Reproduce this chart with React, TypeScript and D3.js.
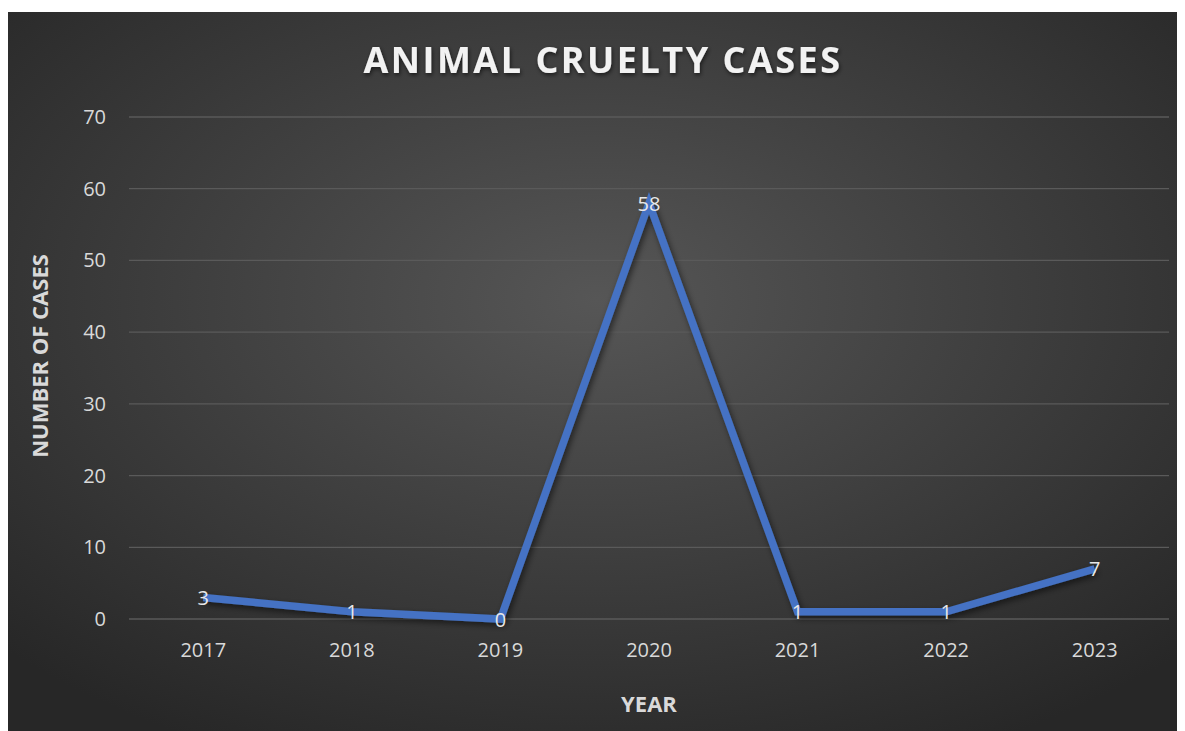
import React from "react";
import * as d3 from "d3";

const years = ["2017", "2018", "2019", "2020", "2021", "2022", "2023"];
const cases = [3, 1, 0, 58, 1, 1, 7];
const yTicks = [0, 10, 20, 30, 40, 50, 60, 70];

const W = 1177;
const H = 723;
const TOP = 4;
const plot = { left: 121, right: 1161, top: 109, bottom: 611 };
const FONT = "'Open Sans', 'Liberation Sans', sans-serif";

export default function App() {
  const x = d3
    .scaleBand<string>()
    .domain(years)
    .range([plot.left, plot.right]);
  const y = d3.scaleLinear().domain([0, 70]).range([plot.bottom, plot.top]);
  const cx = (d: string) => (x(d) ?? 0) + x.bandwidth() / 2;

  const line = d3
    .line<number>()
    .x((_, i) => cx(years[i]))
    .y((d) => y(d));

  return (
    <svg width={W} height={H} style={{ display: "block" }}>
      <defs>
        <radialGradient id="bg" cx="50%" cy="40%" r="70%">
          <stop offset="0%" stopColor="#565656" />
          <stop offset="100%" stopColor="#272727" />
        </radialGradient>
        <filter id="lineShadow" x="-10%" y="-10%" width="120%" height="130%">
          <feDropShadow dx="2" dy="3" stdDeviation="3" floodColor="#000" floodOpacity="0.55" />
        </filter>
        <filter id="titleShadow" x="-5%" y="-30%" width="110%" height="160%">
          <feDropShadow dx="1" dy="2" stdDeviation="2" floodColor="#000" floodOpacity="0.6" />
        </filter>
      </defs>
      <rect x={0} y={TOP} width={W} height={H - TOP} fill="url(#bg)" />

      {/* horizontal gridlines and y tick labels */}
      {yTicks.map((t) => (
        <g key={t}>
          <line
            x1={plot.left}
            x2={plot.right}
            y1={y(t)}
            y2={y(t)}
            stroke="#5a5a5a"
            strokeWidth={1.3}
          />
          <text
            x={plot.left - 23}
            y={y(t)}
            dy="0.35em"
            textAnchor="end"
            fill="#d9d9d9"
            fontFamily={FONT}
            fontSize={20}
          >
            {t}
          </text>
        </g>
      ))}

      {/* x category labels */}
      {years.map((yr) => (
        <text
          key={yr}
          x={cx(yr)}
          y={plot.bottom + 31}
          dy="0.35em"
          textAnchor="middle"
          fill="#d9d9d9"
          fontFamily={FONT}
          fontSize={20}
        >
          {yr}
        </text>
      ))}

      {/* series line */}
      <path
        d={line(cases) ?? ""}
        fill="none"
        stroke="#4472c4"
        strokeWidth={7.5}
        strokeLinejoin="miter"
        filter="url(#lineShadow)"
      />

      {/* data labels */}
      {cases.map((v, i) => (
        <text
          key={i}
          x={cx(years[i])}
          y={y(v)}
          dy="0.38em"
          textAnchor="middle"
          fill="#e8e8e8"
          fontFamily={FONT}
          fontSize={20}
        >
          {v}
        </text>
      ))}

      {/* title */}
      <text
        x={595}
        y={52}
        dy="0.35em"
        textAnchor="middle"
        fill="#f2f2f2"
        fontFamily={FONT}
        fontWeight={700}
        fontSize={36}
        letterSpacing={2.5}
        filter="url(#titleShadow)"
      >
        ANIMAL CRUELTY CASES
      </text>

      {/* axis titles */}
      <text
        transform={`translate(32, 348) rotate(-90)`}
        dy="0.35em"
        textAnchor="middle"
        fill="#d9d9d9"
        fontFamily={FONT}
        fontWeight={700}
        fontSize={22}
      >
        NUMBER OF CASES
      </text>
      <text
        x={(plot.left + plot.right) / 2}
        y={696}
        dy="0.35em"
        textAnchor="middle"
        fill="#d9d9d9"
        fontFamily={FONT}
        fontWeight={700}
        fontSize={22}
      >
        YEAR
      </text>
    </svg>
  );
}
